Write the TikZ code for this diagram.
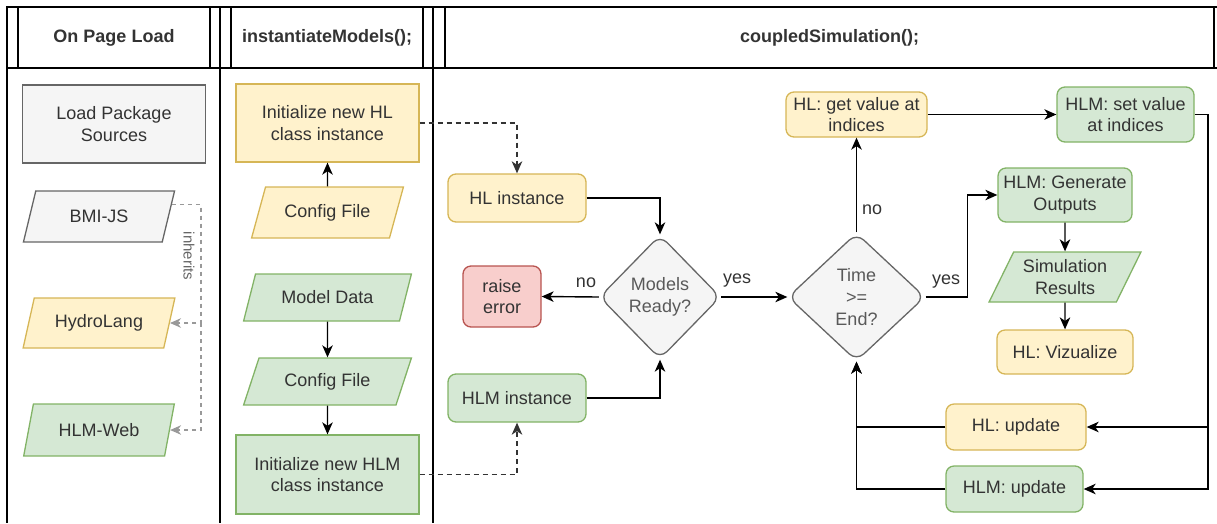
\documentclass[tikz,border=0pt]{standalone}
\usepackage{fontspec}
\setmainfont{Liberation Sans}
\usetikzlibrary{shapes.geometric,arrows.meta,calc}
\definecolor{gfill}{HTML}{F5F5F5}
\definecolor{gline}{HTML}{666666}
\definecolor{yfill}{HTML}{FFF2CC}
\definecolor{yline}{HTML}{D6B656}
\definecolor{grfill}{HTML}{D5E8D4}
\definecolor{grline}{HTML}{82B366}
\definecolor{rfill}{HTML}{F8CECC}
\definecolor{rline}{HTML}{B85450}
\definecolor{txt}{HTML}{333333}
\definecolor{dtxt}{HTML}{595959}
\definecolor{inhc}{HTML}{999999}
\begin{document}
\begin{tikzpicture}[x=1pt,y=-1pt,
  base/.style={font=\fontsize{18}{21.6}\selectfont, text=txt, align=center, inner sep=0pt, line width=1.3pt},
  gray/.style={fill=gfill, draw=gline},
  yel/.style={fill=yfill, draw=yline},
  grn/.style={fill=grfill, draw=grline},
  red/.style={fill=rfill, draw=rline},
  sbox/.style={base, rectangle},
  rbox/.style={base, rectangle, rounded corners=8pt},
  para/.style={base, trapezium, trapezium left angle=60, trapezium right angle=120, trapezium stretches=true},
  paral/.style={base, trapezium, trapezium left angle=65.7, trapezium right angle=114.3, trapezium stretches=true},
  dec/.style={base, diamond, rounded corners=10pt, fill=gfill, draw=gline, text=dtxt},
  arr/.style={line width=1.4pt, draw=black, -{Stealth[length=12pt,width=10.5pt,inset=3.5pt]}},
  dsh/.style={arr, draw=txt, dash pattern=on 5pt off 4pt},
  inh/.style={line width=1.2pt, draw=inhc, dash pattern=on 4pt off 4pt, -{Stealth[length=11pt,width=9.5pt,inset=3.5pt]}},
  lbl/.style={font=\fontsize{18}{21.6}\selectfont, text=txt, inner sep=1pt},
  frame/.style={line width=1.4pt, draw=black},
  head/.style={font=\fontsize{18}{21.6}\selectfont\bfseries, text=txt, inner sep=0pt}
]
\useasboundingbox (0,0) rectangle (1217,523);

% frame
\draw[frame] (7,7) rectangle (220,68);
\draw[frame] (18,7) -- (18,68);
\draw[frame] (210,7) -- (210,68);
\draw[frame] (220,7) rectangle (433,68);
\draw[frame] (231,7) -- (231,68);
\draw[frame] (423,7) -- (423,68);
\draw[frame] (1217,7) -- (433,7) -- (433,68) -- (1217,68);
\draw[frame] (445,7) -- (445,68);
\draw[frame] (1214,7) -- (1214,68);
\draw[frame] (7,68) -- (7,523);
\draw[frame] (220,68) -- (220,523);
\draw[frame] (433,68) -- (433,523);

\node[head] (h1) at (114,38) {On Page Load};
\node[head] (h2) at (327,38) {instantiateModels();};
\node[head] (h3) at (829.5,38) {coupledSimulation();};

% left column
\node[sbox,gray,minimum width=183pt,minimum height=78pt] (lps) at (114,124) {Load Package\\Sources};
\node[paral,gray,minimum width=152pt,minimum height=51pt] (bmi) at (99,216.5) {BMI-JS};
\node[paral,yel,minimum width=152pt,minimum height=50pt] (hydro) at (99,323) {HydroLang};
\node[paral,grn,minimum width=152pt,minimum height=52pt] (hlmweb) at (99,430) {HLM-Web};

\coordinate (bmiR) at ($(bmi.top right corner)!0.275!(bmi.bottom right corner)$);
\coordinate (ib) at (201,0);
\draw[inh] (bmiR) -| (ib |- hydro.east) -- (hydro.east);
\draw[inh] (ib |- hydro.east) |- (hlmweb.east);
\node[font=\fontsize{15}{17}\selectfont, text=gline, rotate=-90, inner sep=0pt] (inhl) at (189,256) {inherits};

% middle column
\node[sbox,yel,minimum width=183pt,minimum height=78pt] (inithl) at (327.5,123) {Initialize new HL\\class instance};
\node[para,yel,minimum width=152pt,minimum height=51pt] (cfg1) at (327.5,212.5) {Config File};
\node[para,grn,minimum width=168pt,minimum height=47pt] (mdata) at (327.5,297.5) {Model Data};
\node[para,grn,minimum width=168pt,minimum height=47pt] (cfg2) at (327.5,381.5) {Config File};
\node[sbox,grn,minimum width=183pt,minimum height=79pt] (inithlm) at (327.5,474.5) {Initialize new HLM\\class instance};

\draw[arr] (cfg1.north) -- (inithl.south);
\draw[arr] (mdata.south) -- (cfg2.north);
\draw[arr] (cfg2.south) -- (inithlm.north);

% right section
\node[rbox,yel,minimum width=138pt,minimum height=48pt] (hlinst) at (517,198) {HL instance};
\node[rbox,red,minimum width=78pt,minimum height=61pt] (raise) at (502,296.5) {raise\\error};
\node[dec,minimum width=121pt,minimum height=124pt] (ready) at (660,297) {Models\\Ready?};
\node[rbox,grn,minimum width=138pt,minimum height=48pt] (hlminst) at (517,398) {HLM instance};

\draw[dsh] (inithl.east) -| (hlinst.north);
\draw[dsh] (inithlm.east) -| (hlminst.south);
\draw[arr] (hlinst.east) -| (ready.north);
\draw[arr] (hlminst.east) -| (ready.south);
\draw[arr] (ready.west) -- (raise.east);
\node[lbl] (lno1) at (586,283) {no};

\node[dec,minimum width=137pt,minimum height=128pt] (time) at (856.5,297) {Time\\>=\\End?};
\draw[arr] (ready.east) -- (time.west);
\node[lbl] (lyes1) at (737,281) {yes};

\node[rbox,yel,minimum width=141pt,minimum height=45pt] (hlget) at (856.5,114.5) {HL: get value at\\indices};
\node[rbox,grn,minimum width=137pt,minimum height=55pt] (hlmset) at (1125.5,114.5) {HLM: set value\\at indices};
\node[rbox,grn,minimum width=134pt,minimum height=54pt] (gen) at (1065,195) {HLM: Generate\\Outputs};
\node[para,grn,minimum width=152pt,minimum height=50pt] (simres) at (1065,277) {Simulation\\Results};
\node[rbox,yel,minimum width=136pt,minimum height=44pt] (viz) at (1065,352) {HL: Vizualize};
\node[rbox,yel,minimum width=140pt,minimum height=46pt] (hlupd) at (1016,427) {HL: update};
\node[rbox,grn,minimum width=137pt,minimum height=46pt] (hlmupd) at (1014.5,489) {HLM: update};

\draw[arr] (time.north) -- (hlget.south);
\node[lbl] (lno2) at (872,210) {no};
\draw[arr] (time.east) -- ++(42,0) |- (gen.west);
\node[lbl] (lyes2) at (946,282) {yes};
\draw[arr] (hlget.east) -- (hlmset.west);
\draw[arr] (gen.south) -- (simres.north);
\draw[arr] (simres.south) -- (viz.north);

\coordinate (rr) at (1208,0);
\draw[arr] (hlmset.east) -| (rr |- hlupd.east) -- (hlupd.east);
\draw[arr] (rr |- hlupd.east) |- (hlmupd.east);
\draw[arr] (hlupd.west) -| (time.south);
\draw[arr] (hlmupd.west) -| (time.south);
\end{tikzpicture}
\end{document}
